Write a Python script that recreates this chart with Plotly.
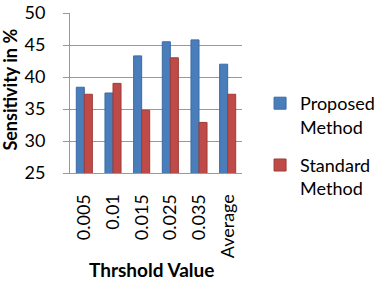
import plotly.graph_objects as go

categories = ["0.005", "0.01", "0.015", "0.025", "0.035", "Average"]
proposed = [38.4, 37.5, 43.3, 45.5, 45.8, 42.0]
standard = [37.3, 39.0, 34.8, 43.0, 32.9, 37.3]
y_ticks = [25, 30, 35, 40, 45, 50]

FONT = "Lato, 'Open Sans', sans-serif"

fig = go.Figure()
fig.add_trace(go.Bar(x=categories, y=proposed, name="Proposed<br>Method", legendgroup="p",
                     marker=dict(color="#4A7EBB", line=dict(color="#3A6AA5", width=1))))
fig.add_trace(go.Bar(x=categories, y=standard, name="Standard<br>Method", legendgroup="s",
                     marker=dict(color="#BE4B48", line=dict(color="#A03A37", width=1))))

fig.update_layout(
    width=381, height=283,
    margin=dict(l=70, r=139, t=13, b=110, autoexpand=False),
    paper_bgcolor="white", plot_bgcolor="white",
    barmode="group", bargap=0.44, bargroupgap=0.0,
    font=dict(family=FONT, color="black"),
    legend=dict(x=1.105, y=0.55, xanchor="left", yanchor="top",
                font=dict(size=18, family=FONT), traceorder="grouped",
                tracegroupgap=12, itemwidth=30, valign="top"),
    xaxis=dict(tickangle=-90, tickfont=dict(size=18), showline=True,
               linecolor="#999999", ticks="outside", ticklen=13,
               tickcolor="rgba(0,0,0,0)", automargin=False),
    yaxis=dict(range=[25, 50], tickvals=y_ticks, tickfont=dict(size=18),
               showgrid=True, gridcolor="#999999", gridwidth=1,
               showline=True, linecolor="#999999", ticks="outside",
               ticklen=6, tickcolor="#999999", ticklabelstandoff=14,
               automargin=False),
    annotations=[
        dict(text="<b>Thrshold Value</b>", xref="paper", yref="paper",
             x=0.474, y=-0.606, xanchor="center", yanchor="middle",
             showarrow=False, font=dict(size=19, family=FONT)),
        dict(text="<b>Sensitivity in %</b>", xref="paper", yref="paper",
             x=-0.351, y=0.519, xanchor="center", yanchor="middle",
             textangle=-90, showarrow=False, font=dict(size=18, family=FONT)),
    ],
)

fig.write_html("out.html", config={"displayModeBar": False},
               post_script="document.body.style.margin='0';")
